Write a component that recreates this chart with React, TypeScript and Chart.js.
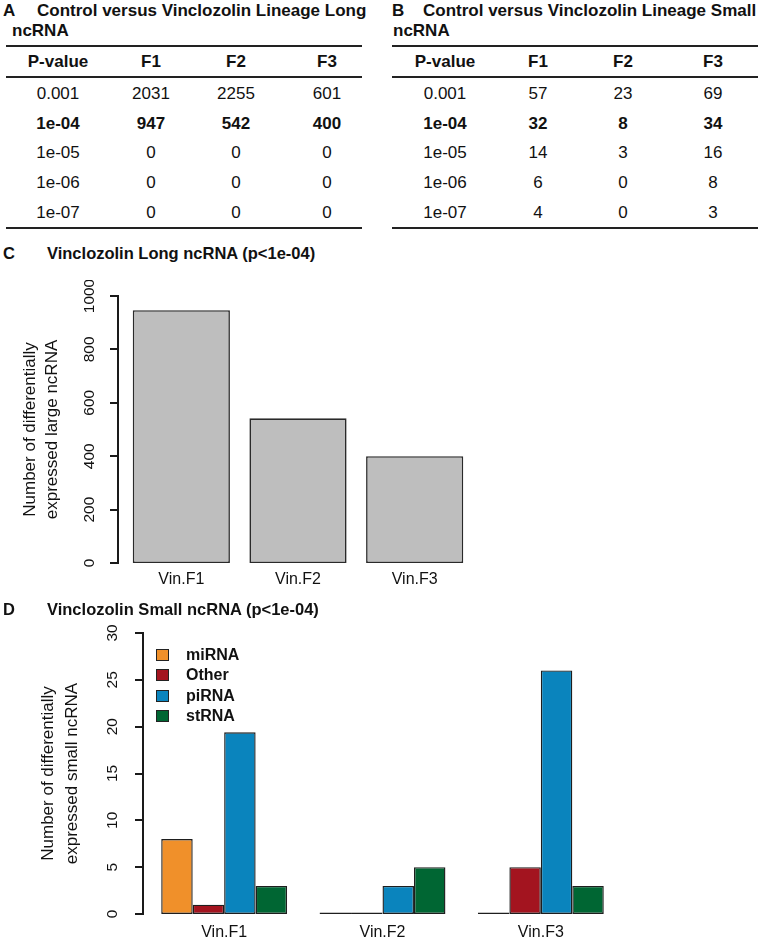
import React, { useEffect, useRef } from "react";
import { Chart, registerables } from "chart.js";

Chart.register(...registerables);

// ---------- DATA ----------
const pValues = ["0.001", "1e-04", "1e-05", "1e-06", "1e-07"];
const generations = ["F1", "F2", "F3"];
const boldPValue = "1e-04";

const longTableF1 = [2031, 947, 0, 0, 0];
const longTableF2 = [2255, 542, 0, 0, 0];
const longTableF3 = [601, 400, 0, 0, 0];

const smallTableF1 = [57, 32, 14, 6, 4];
const smallTableF2 = [23, 8, 3, 0, 0];
const smallTableF3 = [69, 34, 16, 8, 3];

const lineages = ["Vin.F1", "Vin.F2", "Vin.F3"];
const longCounts = [947, 542, 400];
const longTicks = [0, 200, 400, 600, 800, 1000];

const smallTypes = ["miRNA", "Other", "piRNA", "stRNA"];
const miRNACounts = [8, 0, 0];
const otherCounts = [1, 0, 5];
const piRNACounts = [19.4, 3, 26];
const stRNACounts = [3, 5, 3];
const smallTicks = [0, 5, 10, 15, 20, 25, 30];

// ---------- STYLE ----------
const FONT = '"Liberation Sans", Arial, Helvetica, sans-serif';
const TEXT = "#111";
const smallColors = ["#F0902A", "#A3141F", "#0A84BD", "#006633"];

type AxisCfg = {
  ticks: number[];
  axisX: number;
  tickLen: number;
  labelOffset: number;
  titleLines: string[];
  titleX: number[];
  xLabelOffset: number;
  legend?: { boxX: number; textX: number; firstY: number; step: number };
};

function makeAxisPlugin(cfg: AxisCfg) {
  return {
    id: "rAxis",
    afterDraw(chart: any) {
      const ctx: CanvasRenderingContext2D = chart.ctx;
      const y = chart.scales.y;
      const x = chart.scales.x;
      const ticks = cfg.ticks;
      const ax = Math.round(cfg.axisX);
      const y0 = y.getPixelForValue(ticks[0]);
      const y1 = y.getPixelForValue(ticks[ticks.length - 1]);
      ctx.save();
      // axis line and outward tick marks (R style)
      ctx.fillStyle = "#1a1a1a";
      ctx.fillRect(ax - 1, Math.round(y1) - 1, 2, Math.round(y0) - Math.round(y1) + 2);
      ticks.forEach((t) => {
        const py = Math.round(y.getPixelForValue(t));
        ctx.fillRect(ax - cfg.tickLen, py - 1, cfg.tickLen, 2);
      });

      ctx.fillStyle = TEXT;
      ctx.textAlign = "center";
      ctx.textBaseline = "middle";
      ctx.font = `15.5px ${FONT}`;
      ticks.forEach((t) => {
        const py = y.getPixelForValue(t);
        ctx.save();
        ctx.translate(ax - cfg.labelOffset, py);
        ctx.rotate(-Math.PI / 2);
        ctx.fillText(String(t), 0, 0);
        ctx.restore();
      });

      ctx.font = `17px ${FONT}`;
      const midY = (y0 + y1) / 2;
      cfg.titleLines.forEach((line, i) => {
        ctx.save();
        ctx.translate(cfg.titleX[i], midY);
        ctx.rotate(-Math.PI / 2);
        ctx.fillText(line, 0, 0);
        ctx.restore();
      });

      ctx.font = `16px ${FONT}`;
      const labels = chart.data.labels as string[];
      labels.forEach((l, i) => {
        ctx.fillText(l, x.getPixelForValue(i), y0 + cfg.xLabelOffset);
      });

      if (cfg.legend) {
        const lg = cfg.legend;
        ctx.textAlign = "left";
        ctx.font = `bold 16px ${FONT}`;
        chart.data.datasets.forEach((ds: any, i: number) => {
          const cy = Math.round(lg.firstY + i * lg.step);
          ctx.fillStyle = "#222";
          ctx.fillRect(lg.boxX, cy - 6, 13, 12);
          ctx.fillStyle = ds.backgroundColor;
          ctx.fillRect(lg.boxX + 1, cy - 5, 11, 10);
          ctx.fillStyle = TEXT;
          ctx.fillText(ds.label, lg.textX, cy + 1);
        });
      }
      ctx.restore();
    },
  };
}

function LongChart() {
  const ref = useRef<HTMLCanvasElement | null>(null);
  useEffect(() => {
    if (!ref.current) return;
    const chart = new Chart(ref.current, {
      type: "bar",
      data: {
        labels: lineages,
        datasets: [
          {
            label: "Long ncRNA",
            data: longCounts,
            backgroundColor: "#BEBEBE",
            borderColor: "#2a2a2a",
            borderWidth: 1.6,
            borderSkipped: false,
            inflateAmount: 0,
            barPercentage: 1,
            categoryPercentage: 0.833,
          },
        ],
      },
      options: {
        responsive: false,
        animation: false,
        devicePixelRatio: 1,
        layout: { padding: { left: 123, right: 27, top: 16, bottom: 37 } },
        scales: {
          x: { type: "category", display: false, offset: true },
          y: { display: false, min: 0, max: 1000 },
        },
        plugins: { legend: { display: false }, tooltip: { enabled: false } },
      },
      plugins: [
        makeAxisPlugin({
          ticks: longTicks,
          axisX: 118,
          tickLen: 8,
          labelOffset: 28,
          titleLines: ["Number of differentially", "expressed large ncRNA"],
          titleX: [30, 52],
          xLabelOffset: 17,
        }),
      ],
    } as any);
    return () => chart.destroy();
  }, []);
  return <canvas ref={ref} width={500} height={320} style={{ position: "absolute", left: 0, top: 280 }} />;
}

function SmallChart() {
  const ref = useRef<HTMLCanvasElement | null>(null);
  useEffect(() => {
    if (!ref.current) return;
    const series = [miRNACounts, otherCounts, piRNACounts, stRNACounts];
    const chart = new Chart(ref.current, {
      type: "bar",
      data: {
        labels: lineages,
        datasets: series.map((d, i) => ({
          label: smallTypes[i],
          data: d,
          backgroundColor: smallColors[i],
          borderColor: "#1e1e1e",
          borderWidth: 1.4,
          borderSkipped: false,
          inflateAmount: 0,
          minBarLength: 1.6,
          barPercentage: 1,
          categoryPercentage: 0.795,
        })),
      },
      options: {
        responsive: false,
        animation: false,
        devicePixelRatio: 1,
        layout: { padding: { left: 145, right: 80, top: 13, bottom: 28 } },
        scales: {
          x: { type: "category", display: false, offset: true },
          y: { display: false, min: 0, max: 30 },
        },
        plugins: { legend: { display: false }, tooltip: { enabled: false } },
      },
      plugins: [
        makeAxisPlugin({
          ticks: smallTicks,
          axisX: 143,
          tickLen: 8,
          labelOffset: 30,
          titleLines: ["Number of differentially", "expressed small ncRNA"],
          titleX: [48, 72],
          xLabelOffset: 19,
          legend: { boxX: 156, textX: 186, firstY: 35, step: 20.3 },
        }),
      ],
    } as any);
    return () => chart.destroy();
  }, []);
  return <canvas ref={ref} width={700} height={322} style={{ position: "absolute", left: 0, top: 620 }} />;
}

function Txt(props: { x: number; cy: number; text: string; bold?: boolean; size?: number; center?: boolean }) {
  const size = props.size ?? 17;
  const style: React.CSSProperties = {
    position: "absolute",
    top: props.cy - 10,
    lineHeight: "20px",
    fontSize: size,
    fontWeight: props.bold ? "bold" : "normal",
    fontFamily: FONT,
    color: TEXT,
    whiteSpace: "nowrap",
  };
  if (props.center) {
    style.left = props.x - 60;
    style.width = 120;
    style.textAlign = "center";
  } else {
    style.left = props.x;
  }
  return <div style={style}>{props.text}</div>;
}

function DataTable(props: {
  letter: string;
  letterX: number;
  title1: string;
  title1X: number;
  title2: string;
  title2X: number;
  ruleLeft: number;
  ruleWidth: number;
  centers: number[];
  cols: number[][];
}) {
  const rowCy = [94, 123.5, 153, 183, 213];
  const rule = (top: number, h: number) => (
    <div style={{ position: "absolute", left: props.ruleLeft, width: props.ruleWidth, top, height: h, background: "#222" }} />
  );
  return (
    <>
      <Txt x={props.letterX} cy={11} text={props.letter} bold />
      <Txt x={props.title1X} cy={11} text={props.title1} bold />
      <Txt x={props.title2X} cy={31} text={props.title2} bold />
      {rule(45, 2)}
      <Txt x={props.centers[0]} cy={62} text="P-value" bold center />
      {generations.map((g, i) => (
        <Txt key={g} x={props.centers[i + 1]} cy={62} text={g} bold center />
      ))}
      {rule(76, 2)}
      {pValues.map((p, r) => (
        <React.Fragment key={p}>
          <Txt x={props.centers[0]} cy={rowCy[r]} text={p} bold={p === boldPValue} center />
          {props.cols.map((c, j) => (
            <Txt key={j} x={props.centers[j + 1]} cy={rowCy[r]} text={String(c[r])} bold={p === boldPValue} center />
          ))}
        </React.Fragment>
      ))}
      {rule(227, 2)}
    </>
  );
}

export default function App() {
  return (
    <div style={{ position: "absolute", left: 0, top: 0, width: 760, height: 942, background: "#fff", overflow: "hidden" }}>
      <DataTable
        letter="A"
        letterX={3}
        title1="Control versus Vinclozolin Lineage Long"
        title1X={37}
        title2="ncRNA"
        title2X={12}
        ruleLeft={6}
        ruleWidth={356}
        centers={[58, 151, 236, 327]}
        cols={[longTableF1, longTableF2, longTableF3]}
      />
      <DataTable
        letter="B"
        letterX={392}
        title1="Control versus Vinclozolin Lineage Small"
        title1X={423}
        title2="ncRNA"
        title2X={393}
        ruleLeft={392}
        ruleWidth={366}
        centers={[445, 538, 623, 713]}
        cols={[smallTableF1, smallTableF2, smallTableF3]}
      />
      <Txt x={3} cy={253} text="C" bold size={16.5} />
      <Txt x={47} cy={253} text="Vinclozolin Long ncRNA (p<1e-04)" bold size={16.5} />
      <LongChart />
      <Txt x={3} cy={609} text="D" bold size={16.5} />
      <Txt x={47} cy={609} text="Vinclozolin Small ncRNA (p<1e-04)" bold size={16.5} />
      <SmallChart />
    </div>
  );
}
